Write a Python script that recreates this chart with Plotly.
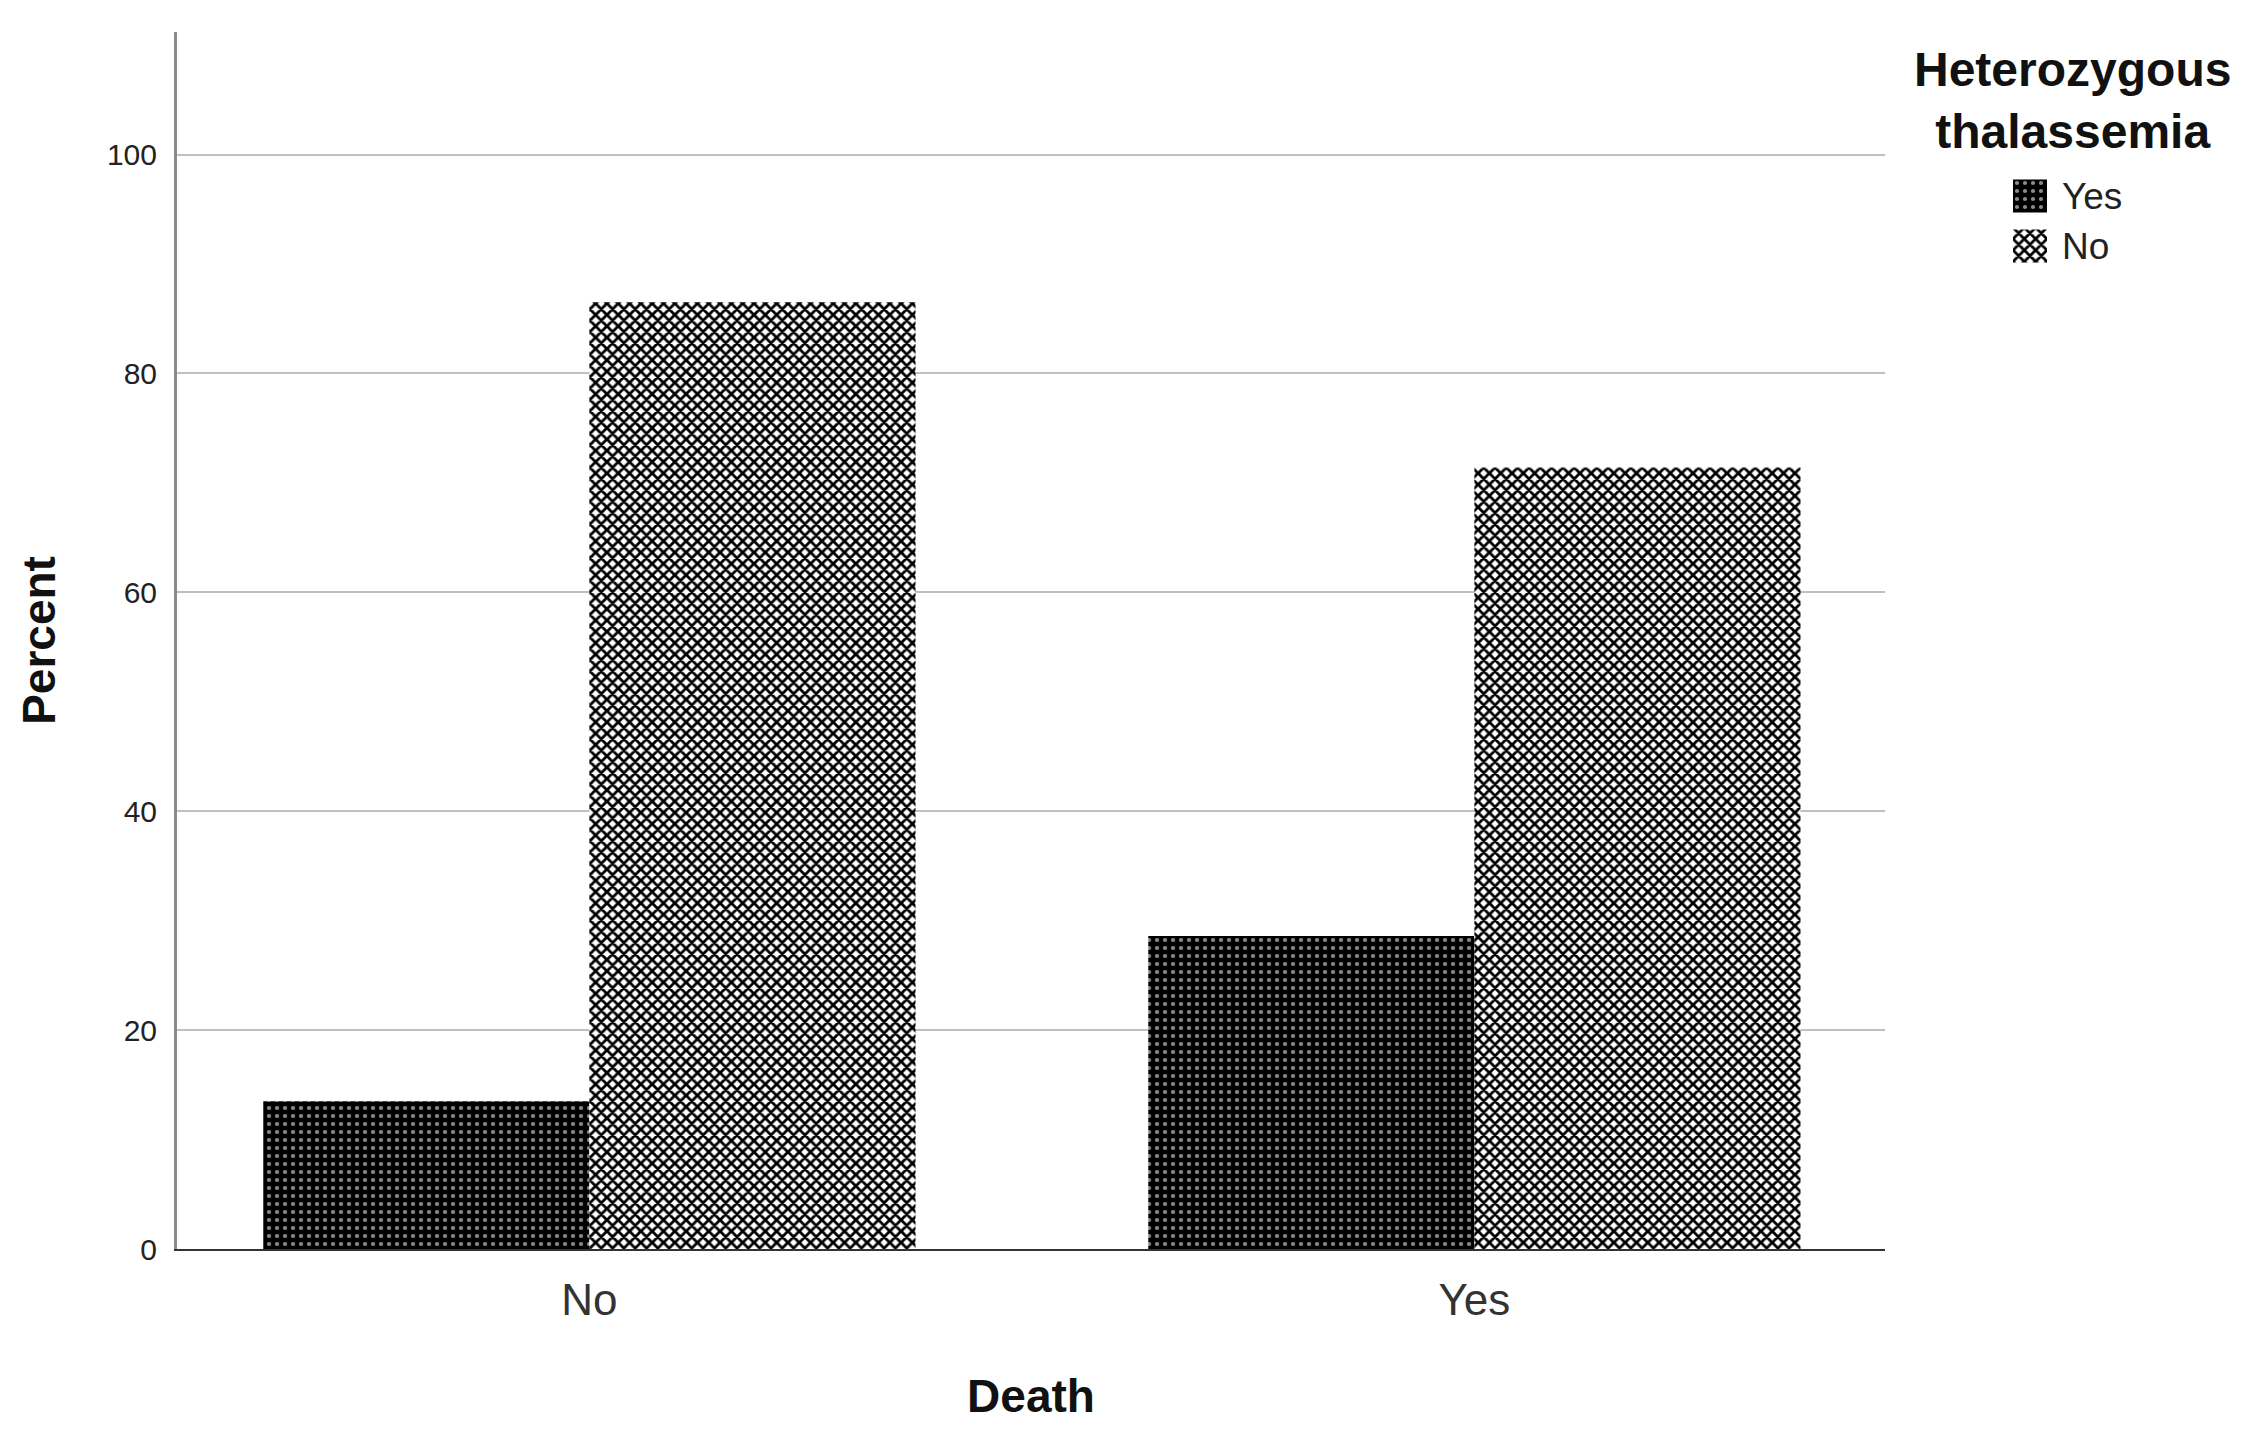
import plotly.graph_objects as go

categories = ["No", "Yes"]          # Death
series_names = ["Yes", "No"]        # Heterozygous thalassemia
values_yes = [13.5, 28.6]
values_no = [86.5, 71.4]
y_ticks = [0, 20, 40, 60, 80, 100]

W, H = 2253, 1433
OFF = 8                      # default page margin around the plot div
FW, FH = W - OFF, H - OFF
PLOT_L, PLOT_R, PLOT_T, PLOT_B = 177, 1885, 32, 1249


def px_x(x):
    return (x - OFF) / FW


def px_y(y):
    return (H - y) / FH


pat_yes = dict(shape=".", bgcolor="black", fgcolor="#8a8a8a",
               size=8, solidity=0.22, fillmode="replace")
pat_no = dict(shape="x", bgcolor="white", fgcolor="black",
              size=8, solidity=0.58, fillmode="replace")

fig = go.Figure()
fig.add_trace(go.Bar(
    x=categories, y=values_yes, name=series_names[0], showlegend=False,
    marker=dict(color="black", line=dict(width=0), pattern=pat_yes),
))
fig.add_trace(go.Bar(
    x=categories, y=values_no, name=series_names[1], showlegend=False,
    marker=dict(color="black", line=dict(width=0), pattern=pat_no),
))

# legend swatches, drawn on a small hidden axis pair in the legend area
fig.add_trace(go.Bar(
    x=[1], y=[series_names[0]], orientation="h", xaxis="x2", yaxis="y2",
    showlegend=False, hoverinfo="skip", width=0.66,
    marker=dict(color="black", line=dict(width=0), pattern=pat_yes),
))
fig.add_trace(go.Bar(
    x=[1], y=[series_names[1]], orientation="h", xaxis="x2", yaxis="y2",
    showlegend=False, hoverinfo="skip", width=0.66,
    marker=dict(color="black", line=dict(width=0), pattern=pat_no),
))

fig.update_layout(
    width=FW, height=FH,
    margin=dict(l=0, r=0, t=0, b=0, pad=0),
    paper_bgcolor="white", plot_bgcolor="white",
    barmode="group", bargap=0.263, bargroupgap=0,
    font=dict(family="Liberation Sans, Arial, sans-serif", color="#111"),
    showlegend=False,
    xaxis=dict(
        domain=[px_x(PLOT_L), px_x(PLOT_R)], anchor="y",
        type="category", range=[-0.466, 1.464], automargin=False,
        showline=True, linecolor="#333", linewidth=2,
        showgrid=False, ticks="", tickfont=dict(size=44, color="#333"),
        ticklabelstandoff=11,
        title=dict(text="<b>Death</b>", font=dict(size=46, color="#111"), standoff=57),
        zeroline=False,
    ),
    yaxis=dict(
        domain=[px_y(PLOT_B), px_y(PLOT_T)], anchor="x",
        range=[0, 111.2], tickvals=y_ticks, automargin=False,
        showline=True, linecolor="#8c8c8c", linewidth=3,
        showgrid=True, gridcolor="#c0c0c0", gridwidth=2,
        ticks="", tickfont=dict(size=30, color="#222"), ticklabelstandoff=11,
        title=dict(text="<b>Percent</b>", font=dict(size=46, color="#111"), standoff=37),
        zeroline=False,
    ),
    xaxis2=dict(domain=[px_x(2013), px_x(2047)], range=[0, 1], anchor="y2",
                visible=False, fixedrange=True),
    yaxis2=dict(domain=[px_y(271), px_y(171)], anchor="x2", type="category",
                categoryorder="array", categoryarray=series_names,
                autorange="reversed", side="right",
                showline=False, showgrid=False, zeroline=False, ticks="",
                tickfont=dict(size=37, color="#222"), ticklabelstandoff=14,
                automargin=False, fixedrange=True),
)

fig.add_annotation(x=px_x(2072), y=px_y(101), xref="paper", yref="paper",
                   text="<b>Heterozygous<br>thalassemia</b>", showarrow=False,
                   xanchor="center", yanchor="middle", align="center",
                   font=dict(size=48, color="#111"))

fig.write_html("out.html")
